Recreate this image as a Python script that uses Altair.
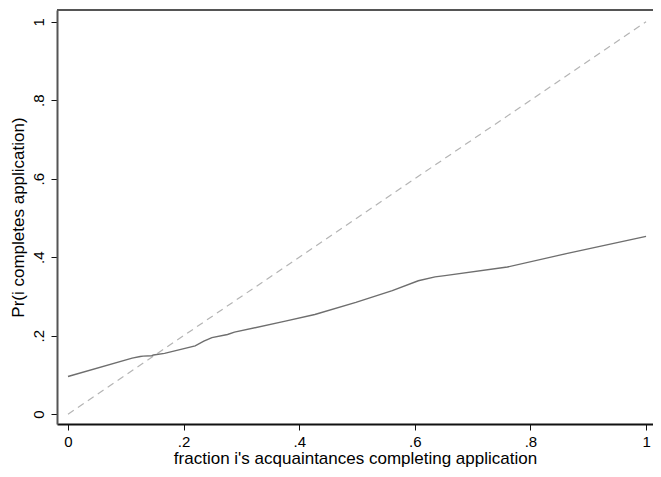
import altair as alt
import pandas as pd

# smooth curve
curve_x = [0.0, 0.111, 0.125, 0.13, 0.145, 0.148, 0.167, 0.22, 0.235, 0.249, 0.276, 0.288,
           0.376, 0.427, 0.498, 0.561, 0.606, 0.635, 0.652, 0.76, 0.862, 1.0]
curve_y = [0.096, 0.143, 0.147, 0.148, 0.149, 0.151, 0.155, 0.174, 0.186, 0.195, 0.203, 0.209,
           0.237, 0.254, 0.285, 0.315, 0.340, 0.350, 0.353, 0.375, 0.409, 0.453]

diag_x = [0.0, 1.0]
diag_y = [0.0, 1.0]

tick_vals = [0, 0.2, 0.4, 0.6, 0.8, 1]
label_expr = "datum.value == 0 ? '0' : datum.value == 1 ? '1' : replace(format(datum.value, '.1f'), '0.', '.')"

curve_df = pd.DataFrame({"x": curve_x, "y": curve_y})
diag_df = pd.DataFrame({"x": diag_x, "y": diag_y})

xscale = alt.Scale(domain=[-0.019, 1.012], nice=False, zero=False)
yscale = alt.Scale(domain=[-0.025, 1.030], nice=False, zero=False)

FONT = "Liberation Sans"
W, H = 596, 414

xaxis = alt.Axis(values=tick_vals, labelExpr=label_expr, grid=False,
                 title="fraction i's acquaintances completing application",
                 tickSize=6, labelPadding=4, titlePadding=1,
                 labelFontSize=15, titleFontSize=17, labelFont=FONT, titleFont=FONT,
                 titleFontWeight="normal", labelColor="#000", titleColor="#000",
                 domainColor="#111", tickColor="#111", domainWidth=2, tickWidth=1)
yaxis = alt.Axis(values=tick_vals, labelExpr=label_expr, grid=False,
                 title="Pr(i completes application)",
                 tickSize=6, labelPadding=5, titlePadding=4, labelAngle=270,
                 labelAlign="center", labelBaseline="bottom",
                 labelFontSize=15, titleFontSize=17, labelFont=FONT, titleFont=FONT,
                 titleFontWeight="normal", labelColor="#000", titleColor="#000",
                 domainColor="#555", tickColor="#111", domainWidth=2, tickWidth=1)

# top frame line (the right edge of the frame lies outside the picture)
frame_top = alt.Chart(pd.DataFrame({"k": [0]})).mark_rule(color="#555", strokeWidth=2).encode(
    x=alt.value(0), x2=alt.value(W), y=alt.value(0)
)

diag = alt.Chart(diag_df).mark_line(color="#b4b4b4", strokeWidth=1.2, strokeDash=[7, 5]).encode(
    x=alt.X("x:Q", scale=xscale, axis=xaxis),
    y=alt.Y("y:Q", scale=yscale, axis=yaxis),
)
curve = alt.Chart(curve_df).mark_line(color="#6e6e6e", strokeWidth=1.4).encode(
    x=alt.X("x:Q", scale=xscale),
    y=alt.Y("y:Q", scale=yscale),
)

chart = alt.layer(frame_top, diag, curve).properties(
    width=W, height=H,
    autosize=alt.AutoSizeParams(type="none"),
    padding={"left": 49, "top": 2, "right": 0, "bottom": 45},
).configure_view(stroke=None).configure(background="white")

chart.save("out.html", embed_options={"renderer": "svg", "actions": False})
